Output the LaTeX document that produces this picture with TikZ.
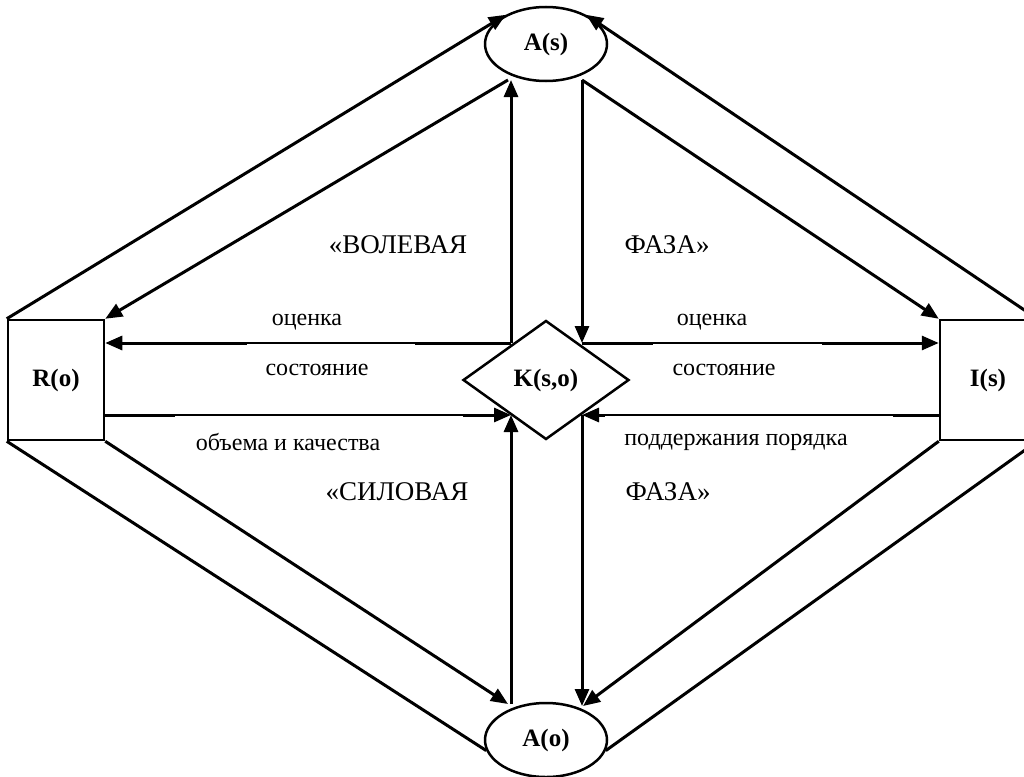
\documentclass[tikz,border=0pt]{standalone}
\usepackage{fontspec}
\setmainfont{Liberation Serif}
\usetikzlibrary{shapes.geometric,arrows.meta}

\begin{document}
\begin{tikzpicture}[x=1pt,y=-1pt,
    lbl/.style={font=\bfseries\fontsize{25}{28}\selectfont},
    txt/.style={font=\fontsize{24}{28}\selectfont},
    phasetxt/.style={font=\fontsize{27}{30}\selectfont},
    arr/.style={line width=3pt,-{Triangle[length=17pt,width=14pt]}},
    ln/.style={line width=3pt},
    thinpart/.style={preaction={draw=white,line width=4pt},line width=1.2pt}]
    \clip (0,0) rectangle (1024,776);
    % blocks
    \node[draw,line width=2.5pt,ellipse,minimum width=122,minimum height=74,lbl] (as) at (546,44) {A(s)};
    \node[draw,line width=2.5pt,ellipse,minimum width=122,minimum height=74,lbl] (ao) at (546,740) {A(o)};
    \node[draw,line width=2.5pt,diamond,inner sep=0pt,minimum width=166,minimum height=119,lbl] (k) at (546,380) {K(s,o)};
    \node[draw,line width=2.5pt,minimum width=96,minimum height=120,lbl] (ro) at (56,380) {R(o)};
    \node[draw,line width=2.5pt,minimum width=96,minimum height=120,lbl] (is) at (988,380) {I(s)};
    % end points
    \coordinate (asl) at (508,80);
    \coordinate (asr) at (582,80);
    \coordinate (kl) at (511,343);
    \coordinate (kr) at (582,343);
    \coordinate (kbl) at (511,415);
    \coordinate (kbr) at (582,415);
    \coordinate (aol) at (508,704);
    \coordinate (aor) at (583,706);
    % upper half
    \draw[arr] (ro.north west) -- (as.144);
    \draw[arr] (is.north east) -- (as.36);
    \draw[arr] (asl) -- (ro.north east);
    \draw[arr] (asr) -- (is.north west);
    \draw[arr] (kl) -- (kl |- asl);
    \draw[arr] (kl) -- (ro.east |- kl);
    \draw[arr] (asr) -- (kr);
    \draw[arr] (kr) -- (is.west |- kr);
    % lower half
    \draw[arr] (ro.east |- kbl) -- (kbl);
    \draw[arr] (kbl |- aol) -- (kbl);
    \draw[arr] (is.west |- kbr) -- (kbr);
    \draw[arr] (kbr) -- (kbr |- aor);
    \draw[arr] (ro.south east) -- (aol);
    \draw[arr] (is.south west) -- (aor);
    \draw[ln] (ro.south west) -- (ao.190);
    \draw[ln] (is.south east) -- (ao.-10);
    % thin middle parts
    \draw[thinpart] (247,343) -- (415,343);
    \draw[thinpart] (653,343) -- (822,343);
    \draw[thinpart] (175,415) -- (463,415);
    \draw[thinpart] (605,415) -- (893,415);
    % texts
    \node[txt] (t1) at (307,322) {оценка};
    \node[txt] (t2) at (712,322) {оценка};
    \node[txt] (t3) at (317,370) {состояние};
    \node[txt] (t4) at (724,370) {состояние};
    \node[txt] (t5) at (288,442) {объема и качества};
    \node[txt] (t6) at (736,442) {поддержания порядка};
    \node[phasetxt] (f1) at (398,245) {«ВОЛЕВАЯ};
    \node[phasetxt] (f2) at (667,245) {ФАЗА»};
    \node[phasetxt] (f3) at (397,492) {«СИЛОВАЯ};
    \node[phasetxt] (f4) at (668,492) {ФАЗА»};
\end{tikzpicture}
\end{document}
